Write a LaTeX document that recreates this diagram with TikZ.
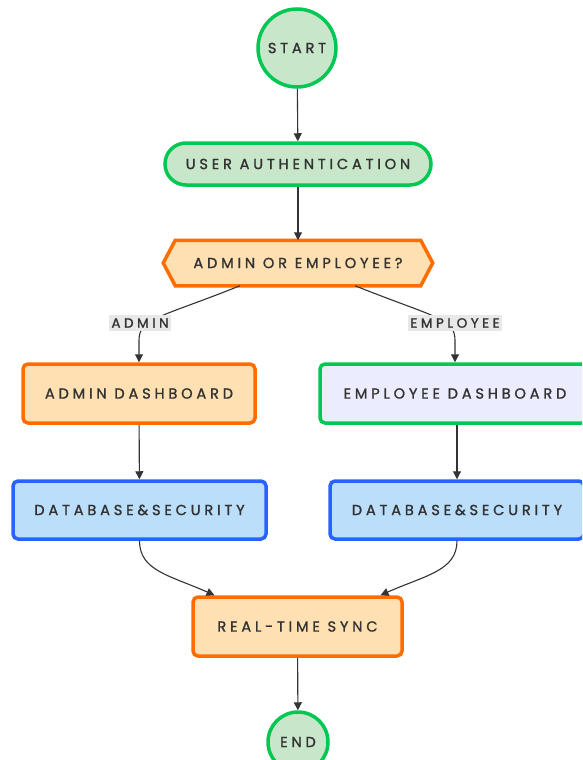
\documentclass[tikz,border=0pt]{standalone}
\usepackage{fontspec}
\setmainfont{Poppins}
\newfontfamily\spaced[LetterSpace=26, FakeBold=1.4]{Poppins}
\usetikzlibrary{arrows.meta,backgrounds,calc}

\definecolor{txt}{HTML}{333333}
\definecolor{gstroke}{HTML}{00C853}
\definecolor{gfill}{HTML}{C8E6C9}
\definecolor{ostroke}{HTML}{FF6D00}
\definecolor{ofill}{HTML}{FFE0B2}
\definecolor{bstroke}{HTML}{2962FF}
\definecolor{bfill}{HTML}{BBDEFB}
\definecolor{pfill}{HTML}{ECECFF}
\definecolor{edgec}{HTML}{333333}
\definecolor{lblbg}{HTML}{E8E8E8}

\tikzset{
  x=1pt, y=1pt,
  base/.style={font=\spaced\fontsize{14.6}{17}\selectfont, text=txt, line width=3.5pt, inner sep=0pt},
  terminal/.style={base, circle, draw=gstroke, fill=gfill},
  stadium/.style={base, rectangle, rounded corners=21pt, draw=gstroke, fill=gfill, minimum height=42pt},
  orangebox/.style={base, rectangle, rounded corners=5pt, draw=ostroke, fill=ofill, minimum height=59pt},
  greenbox/.style={base, rectangle, rounded corners=5pt, draw=gstroke, fill=pfill, minimum height=59pt},
  bluebox/.style={base, rectangle, rounded corners=5pt, draw=bstroke, fill=bfill, minimum height=58pt},
  decision/.style={base, rectangle, minimum width=266pt, minimum height=42pt},
  edge/.style={draw=edgec, line width=1.1pt, -{Triangle[length=8pt,width=8pt]}},
  elabel/.style={font=\spaced\fontsize{13.5}{16}\selectfont, text=txt, fill=lblbg, inner xsep=2pt, inner ysep=3pt}
}

\begin{document}
\begin{tikzpicture}
\useasboundingbox[clip] (0,0) rectangle (582,-760);

% nodes
\node[terminal, minimum size=78pt] (start) at (297,-48) {START};
\node[stadium, minimum width=266pt] (auth) at (298,-164) {USER AUTHENTICATION};
\node[decision] (dec) at (298,-263) {ADMIN OR EMPLOYEE?};
\node[orangebox, minimum width=232pt] (admin) at (139,-393.5) {ADMIN DASHBOARD};
\node[greenbox, minimum width=270pt] (emp) at (455,-393.5) {EMPLOYEE DASHBOARD};
\node[bluebox, minimum width=253pt] (dbL) at (139.5,-510) {DATABASE\&SECURITY};
\node[bluebox, minimum width=254pt] (dbR) at (457,-510) {DATABASE\&SECURITY};
\node[orangebox, minimum width=209pt] (sync) at (297.5,-626.5) {REAL-TIME SYNC};
\node[terminal, minimum size=60pt] (end) at (298,-742) {END};

% page background and the hexagonal decision outline, behind the text
\begin{scope}[on background layer]
  \fill[white] (0,0) rectangle (582,-760);
  \draw[line width=3.5pt, draw=ostroke, fill=ofill, line join=miter]
    (dec.west) -- ([xshift=12pt]dec.north west) -- ([xshift=-12pt]dec.north east)
    -- (dec.east) -- ([xshift=-12pt]dec.south east) -- ([xshift=12pt]dec.south west) -- cycle;
\end{scope}

% connectors
\draw[edge] (start) -- (auth);
\draw[edge] (auth) -- (dec);
\draw[edge] ([xshift=-58pt]dec.south) .. controls +(-80,-32) and +(0,22) .. ([yshift=22pt]admin.north) -- (admin.north);
\draw[edge] ([xshift=57pt]dec.south) .. controls +(80,-32) and +(0,22) .. ([yshift=22pt]emp.north) -- (emp.north);
\draw[edge] (admin) -- (dbL);
\draw[edge] (emp.south -| dbR.north) -- (dbR.north);
\draw[edge] (dbL.south) .. controls +(0,-30) and +(-45,20) .. ([xshift=-83pt]sync.north);
\draw[edge] (dbR.south) .. controls +(0,-30) and +(45,20) .. ([xshift=83pt]sync.north);
\draw[edge] (sync) -- (end);

% edge labels
\node[elabel] (lblA) at (140,-323) {ADMIN};
\node[elabel] (lblE) at (455,-323) {EMPLOYEE};
\end{tikzpicture}
\end{document}
